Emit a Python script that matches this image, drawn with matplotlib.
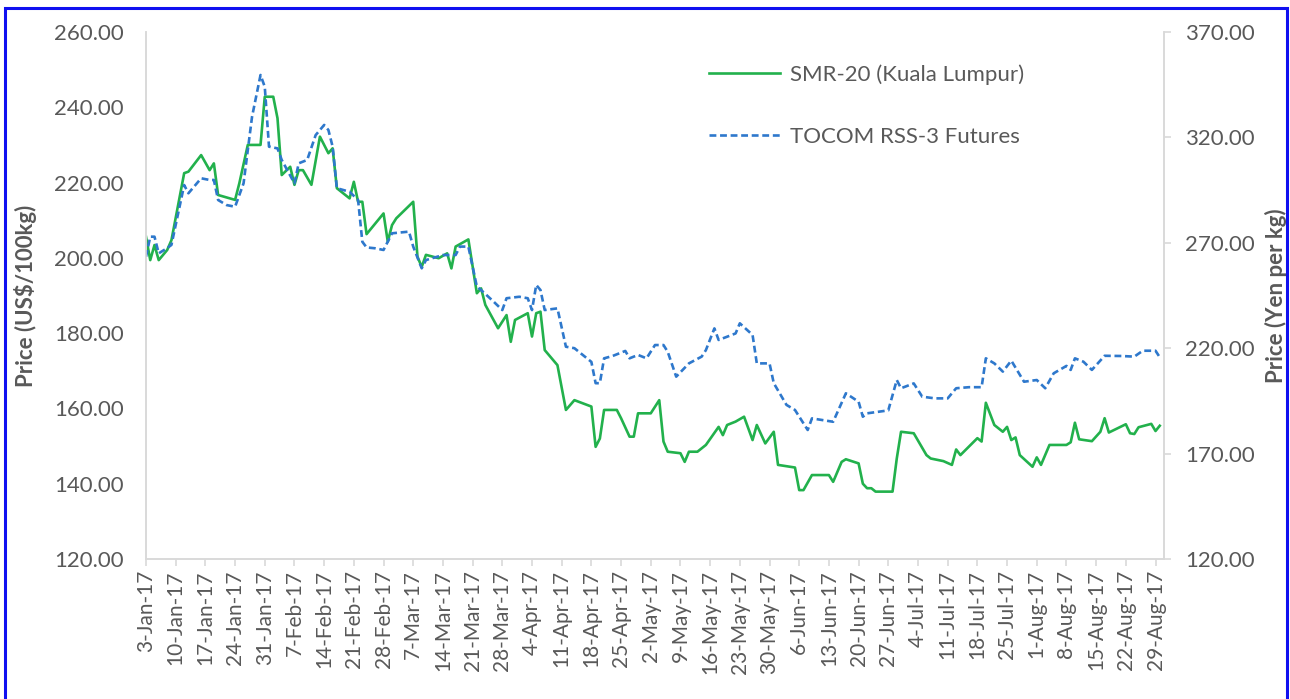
import pandas as pd
import matplotlib.pyplot as plt
import matplotlib.patches as patches

# SMR-20 (Kuala Lumpur), US$/100kg
smr_dates = ["3-Jan", "4-Jan", "5-Jan", "6-Jan", "8-Jan", "9-Jan", "12-Jan", "13-Jan", "16-Jan", "18-Jan",
             "19-Jan", "20-Jan", "24-Jan", "25-Jan", "27-Jan", "30-Jan", "31-Jan", "2-Feb", "3-Feb", "4-Feb",
             "6-Feb", "7-Feb", "8-Feb", "9-Feb", "11-Feb", "13-Feb", "15-Feb", "16-Feb", "17-Feb", "20-Feb",
             "21-Feb", "22-Feb", "23-Feb", "24-Feb", "28-Feb", "1-Mar", "2-Mar", "3-Mar", "7-Mar", "8-Mar",
             "9-Mar", "10-Mar", "13-Mar", "15-Mar", "16-Mar", "17-Mar", "20-Mar", "22-Mar", "23-Mar", "24-Mar",
             "27-Mar", "29-Mar", "30-Mar", "31-Mar", "3-Apr", "4-Apr", "5-Apr", "6-Apr", "7-Apr", "10-Apr",
             "12-Apr", "14-Apr", "18-Apr", "19-Apr", "20-Apr", "21-Apr", "24-Apr", "25-Apr", "27-Apr", "28-Apr",
             "29-Apr", "2-May", "4-May", "5-May", "6-May", "9-May", "10-May", "11-May", "13-May", "15-May",
             "18-May", "19-May", "20-May", "22-May", "24-May", "26-May", "27-May", "29-May", "31-May", "1-Jun",
             "5-Jun", "6-Jun", "7-Jun", "9-Jun", "13-Jun", "14-Jun", "16-Jun", "17-Jun", "20-Jun", "21-Jun",
             "22-Jun", "23-Jun", "24-Jun", "28-Jun", "29-Jun", "30-Jun", "3-Jul", "6-Jul", "7-Jul", "10-Jul",
             "12-Jul", "13-Jul", "14-Jul", "18-Jul", "19-Jul", "20-Jul", "22-Jul", "24-Jul", "25-Jul", "26-Jul",
             "27-Jul", "28-Jul", "31-Jul", "1-Aug", "2-Aug", "4-Aug", "8-Aug", "9-Aug", "10-Aug", "11-Aug",
             "14-Aug", "16-Aug", "17-Aug", "18-Aug", "22-Aug", "23-Aug", "24-Aug", "25-Aug", "28-Aug", "29-Aug",
             "30-Aug"]
smr_prices = [205.6, 199.4, 203.4, 199.4, 202.1, 204.7, 222.5, 222.9, 227.3, 223.3,
              225.1, 216.7, 215.4, 219.8, 230.0, 230.0, 242.8, 242.8, 237.1, 222.0,
              224.2, 219.4, 223.3, 223.3, 219.4, 232.2, 227.8, 229.1, 218.5, 215.8,
              220.2, 214.9, 214.9, 206.3, 211.8, 204.3, 208.7, 210.5, 214.9, 200.3,
              197.6, 200.8, 199.9, 201.2, 197.2, 203.0, 204.9, 190.6, 191.9, 187.5,
              181.3, 184.8, 177.7, 183.5, 185.3, 179.1, 185.3, 185.7, 175.5, 171.5,
              159.6, 162.2, 160.5, 149.8, 152.0, 159.6, 159.6, 157.4, 152.5, 152.5,
              158.7, 158.7, 162.2, 151.2, 148.5, 148.1, 145.8, 148.5, 148.5, 150.3,
              155.1, 152.9, 155.6, 156.5, 157.8, 151.6, 155.6, 150.7, 153.8, 145.0,
              144.3, 138.3, 138.3, 142.3, 142.3, 140.5, 145.8, 146.5, 145.4, 140.0,
              138.8, 138.8, 137.9, 137.9, 146.7, 153.8, 153.4, 147.6, 146.7, 146.0,
              145.0, 149.1, 147.6, 152.1, 151.2, 161.5, 155.6, 153.8, 155.1, 151.6,
              152.3, 147.6, 144.5, 147.0, 145.0, 150.3, 150.3, 151.0, 156.2, 151.8,
              151.3, 153.8, 157.4, 153.6, 155.8, 153.4, 153.2, 155.0, 155.9, 154.0,
              155.4]

# TOCOM RSS-3 Futures, Yen per kg
tocom_dates = ["3-Jan", "4-Jan", "5-Jan", "6-Jan", "8-Jan", "9-Jan", "12-Jan", "13-Jan", "16-Jan", "18-Jan",
               "19-Jan", "20-Jan", "22-Jan", "24-Jan", "26-Jan", "28-Jan", "30-Jan", "31-Jan", "1-Feb", "3-Feb",
               "4-Feb", "7-Feb", "8-Feb", "10-Feb", "12-Feb", "14-Feb", "15-Feb", "16-Feb", "17-Feb", "20-Feb",
               "22-Feb", "23-Feb", "24-Feb", "26-Feb", "28-Feb", "2-Mar", "6-Mar", "7-Mar", "9-Mar", "10-Mar",
               "14-Mar", "17-Mar", "18-Mar", "20-Mar", "22-Mar", "23-Mar", "26-Mar", "28-Mar", "29-Mar", "1-Apr",
               "3-Apr", "4-Apr", "5-Apr", "6-Apr", "7-Apr", "10-Apr", "12-Apr", "14-Apr", "18-Apr", "19-Apr",
               "20-Apr", "21-Apr", "23-Apr", "26-Apr", "27-Apr", "29-Apr", "1-May", "3-May", "5-May", "6-May",
               "8-May", "11-May", "14-May", "15-May", "17-May", "18-May", "22-May", "23-May", "26-May", "27-May",
               "30-May", "31-May", "3-Jun", "5-Jun", "8-Jun", "9-Jun", "14-Jun", "17-Jun", "20-Jun", "21-Jun",
               "22-Jun", "27-Jun", "29-Jun", "30-Jun", "3-Jul", "5-Jul", "8-Jul", "11-Jul", "13-Jul", "16-Jul",
               "19-Jul", "20-Jul", "22-Jul", "24-Jul", "26-Jul", "29-Jul", "1-Aug", "3-Aug", "5-Aug", "8-Aug",
               "9-Aug", "10-Aug", "12-Aug", "14-Aug", "17-Aug", "21-Aug", "24-Aug", "26-Aug", "29-Aug", "30-Aug"]
tocom_prices = [263.4, 272.9, 272.9, 265.0, 267.5, 269.0, 297.4, 293.5, 300.6, 299.8,
                299.8, 290.3, 287.9, 287.1, 298.2, 329.8, 349.6, 344.0, 315.6, 314.8,
                309.3, 298.2, 307.7, 309.3, 321.1, 325.9, 323.5, 315.6, 295.9, 294.2,
                290.3, 270.5, 267.8, 267.4, 266.6, 274.5, 275.3, 268.2, 257.9, 261.8,
                264.2, 264.2, 268.2, 268.2, 249.2, 247.6, 242.0, 238.1, 243.7, 244.4,
                243.7, 238.1, 250.0, 247.6, 238.1, 238.9, 220.7, 220.0, 213.5, 203.4,
                203.4, 215.2, 216.3, 218.7, 215.2, 216.8, 215.2, 221.5, 221.5, 218.3,
                206.5, 212.8, 216.0, 219.1, 229.4, 223.9, 227.0, 231.8, 226.3, 212.8,
                212.8, 203.4, 193.1, 190.7, 181.2, 186.7, 185.1, 198.6, 194.6, 187.5,
                189.1, 190.5, 204.9, 201.0, 203.3, 197.0, 196.2, 196.2, 201.0, 201.5,
                201.5, 215.2, 212.8, 208.9, 214.1, 204.1, 204.9, 201.0, 208.1, 211.6,
                209.7, 215.2, 213.6, 209.7, 216.4, 216.3, 216.0, 218.8, 218.8, 215.7]

left_ticks = [120, 140, 160, 180, 200, 220, 240, 260]
right_ticks = [120, 170, 220, 270, 320, 370]


def to_dates(labels):
    return pd.to_datetime([d + "-2017" for d in labels], format="%d-%b-%Y")


plt.rcParams['font.family'] = ['Lato', 'DejaVu Sans']
txt = '#595959'
axis_grey = '#D9D9D9'

fig = plt.figure(figsize=(12.9, 6.99), dpi=100)
ax = fig.add_axes([146 / 1290, 1 - 559 / 699, 1018 / 1290, 527 / 699])
ax2 = ax.twinx()

l1, = ax.plot(to_dates(smr_dates), smr_prices, color='#22B14C', lw=1.9,
              label='SMR-20 (Kuala Lumpur)')
l2, = ax2.plot(to_dates(tocom_dates), tocom_prices, color='#2E78CC', lw=1.9,
               dashes=(2.6, 1.4), label='TOCOM RSS-3 Futures')

ax.set_xlim(pd.Timestamp('2017-01-03'), pd.Timestamp('2017-08-31'))
ax.set_ylim(120, 260)
ax2.set_ylim(120, 370)

ax.set_yticks(left_ticks)
ax.set_yticklabels([f"{v:.2f}" for v in left_ticks])
ax2.set_yticks(right_ticks)
ax2.set_yticklabels([f"{v:.2f}" for v in right_ticks])

weeks = pd.date_range('2017-01-03', '2017-08-29', freq='7D')
ax.set_xticks(weeks)
ax.set_xticklabels([f"{d.day}-{d.strftime('%b-%y')}" for d in weeks], rotation=90)

for a in (ax, ax2):
    a.spines['top'].set_visible(False)
    for side in ('left', 'right', 'bottom'):
        a.spines[side].set_color(axis_grey)
        a.spines[side].set_linewidth(1.2)

ax.tick_params(axis='y', length=0, pad=16, labelsize=16, labelcolor=txt)
ax.tick_params(axis='x', length=5, width=1.2, color=axis_grey, direction='out', pad=3,
               labelsize=15, labelcolor=txt)
ax2.tick_params(axis='y', length=5, width=1.2, color=axis_grey, direction='out', pad=10,
                labelsize=16, labelcolor=txt)

ax.set_ylabel('Price (US$/100kg)', fontsize=16, fontweight='bold', color=txt)
ax.yaxis.set_label_coords(-0.107, 0.5)
ax2.set_ylabel('Price (Yen per kg)', fontsize=16, fontweight='bold', color=txt, rotation=90)
ax2.yaxis.set_label_coords(1.099, 0.5)

fig.legend(handles=[l1, l2], loc='upper left', bbox_to_anchor=(698 / 1290, 1 - 53 / 699),
           frameon=False, fontsize=16, handlelength=3.2, handletextpad=0.45,
           labelspacing=1.9, borderpad=0, labelcolor=txt)

# blue outer frame
fig.patches.append(patches.Rectangle((5 / 1290, -0.02), 1282 / 1290, 1.02 - 8 / 699,
                                     transform=fig.transFigure, fill=False,
                                     edgecolor='#1010F0', lw=2.2))

fig.savefig('out.png', dpi=100)
